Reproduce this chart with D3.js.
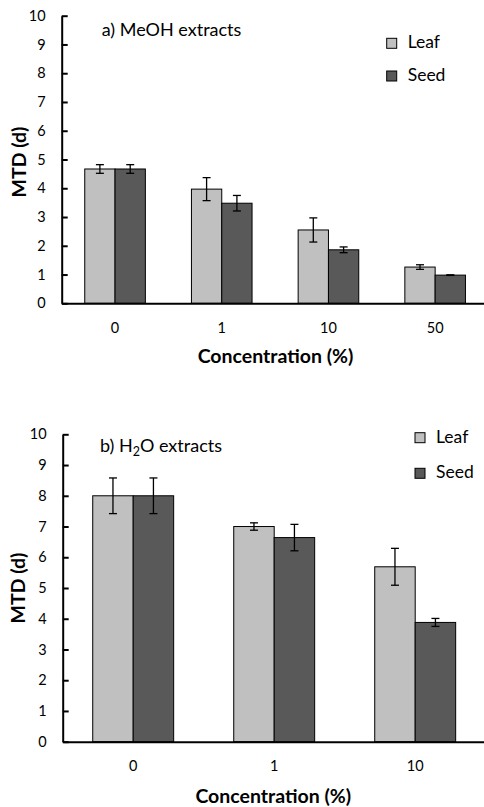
<!DOCTYPE html>
<html lang="en">
<head>
  <meta charset="utf-8">
  <title>MTD bars</title>
  <script src="https://d3js.org/d3.v7.min.js"></script>
</head>
<body>
  <div id="chart"></div>

<style>
body { margin: 0; background: #fff; }
svg text { font-family: Lato, "Open Sans", sans-serif; fill: #000; }
.tick text { font-size: 14.5px; }
.axis-title { font-size: 19.5px; font-weight: bold; }
.panel-title { font-size: 18px; }
.legend text { font-size: 17.5px; }
.leaf { fill: #c0c0c0; stroke: #000; stroke-width: 1; }
.seed { fill: #595959; stroke: #000; stroke-width: 1; }
.err { stroke: #000; stroke-width: 1.3; fill: none; }
.axis .domain { stroke: #000; stroke-width: 2; }
.y.axis .tick line { stroke: #000; stroke-width: 2; }
</style>

<script type="text/javascript">
"use strict"

var series = ['Leaf', 'Seed'];
var yTicks = [0, 1, 2, 3, 4, 5, 6, 7, 8, 9, 10];

// a) MeOH extracts
var concA = ['0', '1', '10', '50'];
var leafA = [4.67, 3.97, 2.55, 1.26];
var leafErrA = [0.15, 0.40, 0.42, 0.08];
var seedA = [4.67, 3.48, 1.86, 0.98];
var seedErrA = [0.15, 0.27, 0.10, 0.01];

// b) H2O extracts
var concB = ['0', '1', '10'];
var leafB = [8.0, 7.0, 5.69];
var leafErrB = [0.58, 0.12, 0.60];
var seedB = [8.0, 6.64, 3.88];
var seedErrB = [0.58, 0.43, 0.13];

var svg = d3.select('#chart').append('svg')
    .attr('width', 484)
    .attr('height', 807);

function desenhaPainel(p) {
  var dados = p.conc.map(function(c, i) {
    return {
      conc: c,
      vals: [
        {s: 'Leaf', v: p.leaf[i], e: p.leafErr[i]},
        {s: 'Seed', v: p.seed[i], e: p.seedErr[i]}
      ]
    };
  });

  var x = d3.scaleBand()
      .domain(p.conc)
      .range([p.left, p.right])
      .paddingInner(p.pad)
      .paddingOuter(p.pad / 2);

  var x1 = d3.scaleBand()
      .domain(series)
      .range([0, x.bandwidth()]);

  var y = d3.scaleLinear()
      .domain([0, 10])
      .range([p.bottom, p.top]);

  var g = svg.append('g');

  var grupos = g.selectAll('.grupo')
      .data(dados)
    .enter().append('g')
      .attr('class', 'grupo')
      .attr('transform', function(d) { return 'translate(' + x(d.conc) + ',0)'; });

  grupos.selectAll('rect')
      .data(function(d) { return d.vals; })
    .enter().append('rect')
      .attr('class', function(d) { return d.s.toLowerCase(); })
      .attr('x', function(d) { return x1(d.s); })
      .attr('width', x1.bandwidth())
      .attr('y', function(d) { return y(d.v); })
      .attr('height', function(d) { return y(0) - y(d.v); });

  var err = grupos.selectAll('.errbar')
      .data(function(d) { return d.vals; })
    .enter().append('g')
      .attr('class', 'errbar')
      .attr('transform', function(d) { return 'translate(' + (x1(d.s) + x1.bandwidth() / 2) + ',0)'; });

  err.append('line').attr('class', 'err')
      .attr('x1', 0).attr('x2', 0)
      .attr('y1', function(d) { return y(d.v + d.e); })
      .attr('y2', function(d) { return y(d.v - d.e); });
  err.append('line').attr('class', 'err')
      .attr('x1', -4).attr('x2', 4)
      .attr('y1', function(d) { return y(d.v + d.e); })
      .attr('y2', function(d) { return y(d.v + d.e); });
  err.append('line').attr('class', 'err')
      .attr('x1', -4).attr('x2', 4)
      .attr('y1', function(d) { return y(d.v - d.e); })
      .attr('y2', function(d) { return y(d.v - d.e); });

  g.append('g')
      .attr('class', 'x axis')
      .attr('transform', 'translate(0,' + p.bottom + ')')
      .call(d3.axisBottom(x).tickSize(0).tickPadding(19))
      .call(function(a) { a.selectAll('.tick line').remove(); });

  g.append('g')
      .attr('class', 'y axis')
      .attr('transform', 'translate(' + p.left + ',0)')
      .call(d3.axisLeft(y).tickValues(yTicks).tickSizeInner(-6).tickSizeOuter(0).tickPadding(16));

  g.selectAll('.axis text').attr('font-family', null).attr('font-size', null);

  // titulos
  var t = g.append('text')
      .attr('class', 'panel-title')
      .attr('x', p.titleX)
      .attr('y', p.titleY);
  p.title.forEach(function(parte) {
    var ts = t.append('tspan').text(parte.t);
    if (parte.sub) ts.attr('font-size', 12.5).attr('dy', 4);
    if (parte.up) ts.attr('dy', -4);
  });

  g.append('text')
      .attr('class', 'axis-title')
      .attr('text-anchor', 'middle')
      .attr('x', p.xTitleX)
      .attr('y', p.xTitleY)
      .text('Concentration (%)');

  g.append('text')
      .attr('class', 'axis-title')
      .attr('text-anchor', 'middle')
      .attr('dominant-baseline', 'central')
      .attr('transform', 'translate(' + p.yTitleX + ',' + p.yTitleY + ') rotate(-90)')
      .text('MTD (d)');

  var leg = g.append('g')
      .attr('class', 'legend')
      .selectAll('g')
      .data(series)
    .enter().append('g')
      .attr('transform', function(d, i) { return 'translate(' + p.legX + ',' + p.legY[i] + ')'; });

  leg.append('rect')
      .attr('class', function(d) { return d.toLowerCase(); })
      .attr('x', 0).attr('y', -10)
      .attr('width', 10).attr('height', 10);

  leg.append('text')
      .attr('x', 21)
      .attr('y', 0)
      .text(function(d) { return d; });
}

desenhaPainel({
  conc: concA, leaf: leafA, leafErr: leafErrA, seed: seedA, seedErr: seedErrA,
  left: 61.7, right: 488.5, top: 15.7, bottom: 303.3, pad: 0.432,
  title: [{t: 'a) MeOH extracts'}], titleX: 101.7, titleY: 36,
  xTitleX: 275.5, xTitleY: 363.3, yTitleX: 18.3, yTitleY: 162,
  legX: 386.7, legY: [48.3, 81]
});

desenhaPainel({
  conc: concB, leaf: leafB, leafErr: leafErrB, seed: seedB, seedErr: seedErrB,
  left: 62.7, right: 485.7, top: 434.3, bottom: 741.7, pad: 0.426,
  title: [{t: 'b) H'}, {t: '2', sub: true}, {t: 'O extracts', up: true}], titleX: 100, titleY: 451.7,
  xTitleX: 273.3, xTitleY: 803, yTitleX: 17.5, yTitleY: 588,
  legX: 415, legY: [442.7, 478.3]
});
</script>
</body>
</html>
